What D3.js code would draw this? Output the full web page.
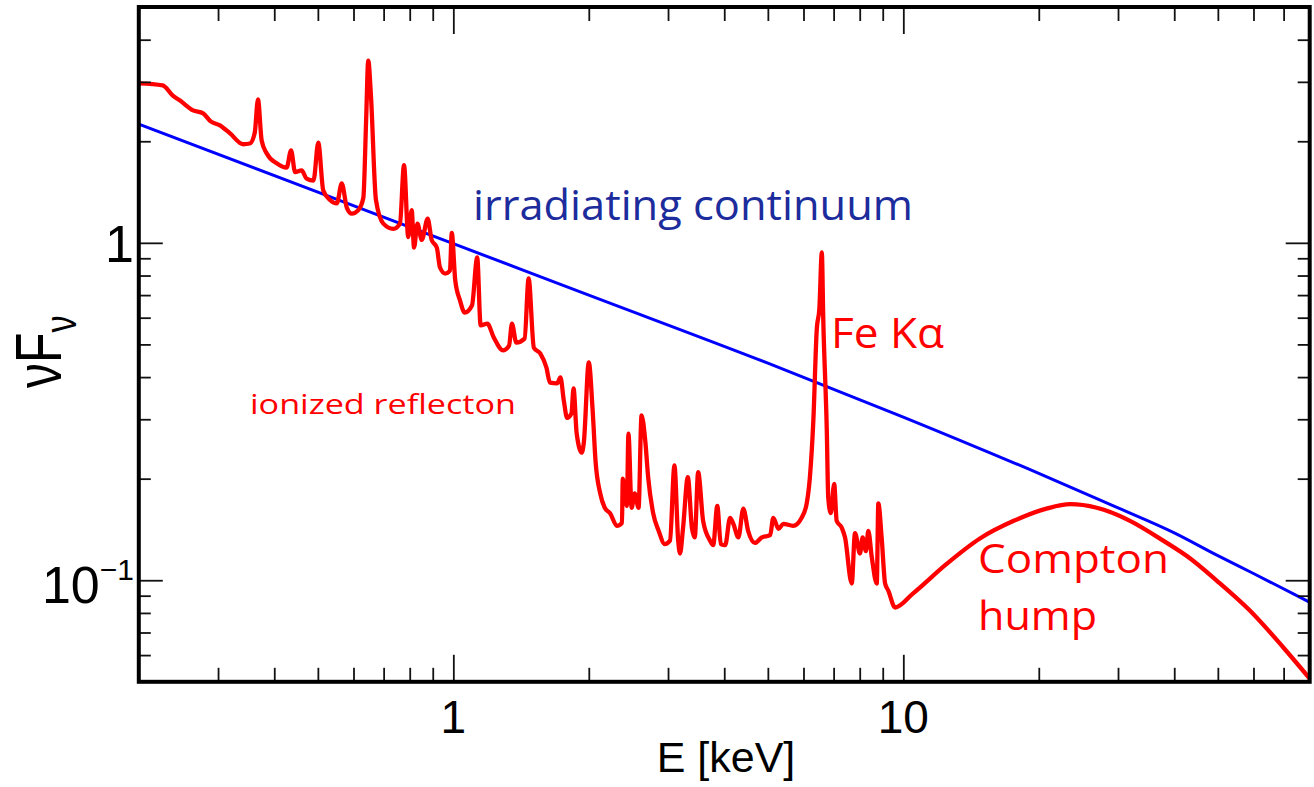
<!DOCTYPE html>
<html><head><meta charset="utf-8">
<script src="https://cdn.jsdelivr.net/npm/d3@7"></script>
<style>html,body{margin:0;padding:0;background:#fff;} svg{display:block}</style>
</head><body>
<svg id="chart" width="1314" height="787"></svg>
<script>
// ---- data ----
const reflEnergy = [0.2,0.226,0.238,0.247,0.264,0.278,0.289,0.303,0.319,0.341,0.353,0.362,0.368,0.375,0.385,0.405,0.426,0.436,0.445,0.460,
 0.472,0.489,0.501,0.514,0.532,0.551,0.565,0.580,0.595,0.615,0.631,0.640,0.647,0.656,0.673,0.699,0.736,0.761,0.777,0.794,
 0.808,0.818,0.832,0.851,0.877,0.895,0.919,0.934,0.959,0.983,0.992,1.01,1.035,1.06,1.10,1.13,1.15,1.19,1.23,1.29,
 1.33,1.35,1.38,1.44,1.47,1.51,1.56,1.61,1.64,1.70,1.73,1.76,1.79,1.83,1.85,1.88,1.93,1.95,2.00,2.04,
 2.07,2.12,2.17,2.23,2.31,2.37,2.38,2.43,2.45,2.49,2.53,2.58,2.62,2.67,2.71,2.78,2.86,2.95,3.03,3.10,
 3.16,3.19,3.24,3.32,3.39,3.44,3.50,3.59,3.72,3.78,3.86,3.93,4.02,4.12,4.19,4.30,4.41,4.52,4.68,4.85,
 5.06,5.14,5.28,5.41,5.69,5.94,6.10,6.20,6.31,6.42,6.51,6.59,6.64,6.76,6.81,6.90,7.02,7.11,7.30,7.42,
 7.68,7.81,8.01,8.12,8.26,8.36,8.51,8.73,8.80,8.95,9.11,9.26,9.59,10.5,12.5,14.8,17.6,20.8,23.5,26.9,
 31.9,37.8,43.4,49.7,58.9,69.9,80];
const reflFlux = [2.97,2.93,2.73,2.64,2.47,2.42,2.29,2.23,2.11,1.96,1.97,2.12,2.66,2.01,1.84,1.72,1.67,1.88,1.62,1.64,
 1.55,1.53,1.98,1.43,1.34,1.31,1.50,1.27,1.22,1.25,1.36,2.30,3.47,2.73,1.34,1.14,1.10,1.14,1.70,1.04,
 1.25,0.968,1.14,1.02,1.18,1.02,0.968,0.845,0.811,0.828,1.07,0.773,0.674,0.621,0.652,0.905,0.569,0.576,0.524,0.480,
 0.496,0.576,0.506,0.520,0.784,0.489,0.470,0.427,0.385,0.383,0.399,0.341,0.303,0.312,0.370,0.272,0.239,0.256,0.442,0.318,
 0.226,0.181,0.164,0.158,0.145,0.148,0.200,0.166,0.272,0.164,0.181,0.164,0.308,0.259,0.202,0.158,0.140,0.128,0.131,0.219,
 0.131,0.120,0.143,0.202,0.143,0.134,0.209,0.150,0.131,0.127,0.166,0.128,0.127,0.153,0.147,0.134,0.163,0.140,0.129,0.134,
 0.136,0.153,0.142,0.147,0.145,0.153,0.169,0.202,0.297,0.550,0.643,0.936,0.589,0.278,0.176,0.158,0.193,0.150,0.143,0.134,
 0.0978,0.138,0.120,0.134,0.122,0.140,0.117,0.0978,0.169,0.134,0.0978,0.0932,0.0830,0.0913,0.112,0.133,0.150,0.163,0.168,0.164,
 0.150,0.131,0.116,0.0998,0.0813,0.0632,0.0511];
const contEnergy = [0.2,0.5,1,2,5,10,20,30,40,50,60,80];
const contFlux = [2.249,1.413,0.9945,0.700,0.440,0.3046,0.2073,0.1639,0.1382,0.1183,0.1047,0.0861];

const xDomain = [0.2, 80];
const yDomain = [0.05, 5];
const xMajorTicks = [1, 10];
const xTickLabels = ["1", "10"];
const yMajorTicks = [1, 0.1];
const xTitle = "E [keV]";

// ---- layout ----
const L = 138.8, R = 1309.7, T = 7, B = 681.8;
const svg = d3.select("#chart");
const x = d3.scaleLog().domain(xDomain).range([L, R]);
const y = d3.scaleLog().domain(yDomain).range([B, T]);

function minorTicks(dom) {
  const out = [];
  for (let p = -3; p <= 3; p++) for (let k = 2; k <= 9; k++) {
    const v = k * Math.pow(10, p);
    if (v > dom[0] * 1.0001 && v < dom[1] * 0.9999) out.push(v);
  }
  return out;
}
const xMinor = minorTicks(xDomain);
const yMinor = minorTicks(yDomain);

svg.append("clipPath").attr("id","plotclip").append("rect")
  .attr("x", L).attr("y", T).attr("width", R - L).attr("height", B - T);
const g = svg.append("g").attr("clip-path","url(#plotclip)");

const blueLine = d3.line().x(d => x(d[0])).y(d => y(d[1])).curve(d3.curveMonotoneX);
const redLine = d3.line().x(d => x(d[0])).y(d => y(d[1])).curve(d3.curveMonotoneX);

g.append("path")
  .datum(contEnergy.map((e,i)=>[e, contFlux[i]]))
  .attr("d", blueLine)
  .attr("fill","none").attr("stroke","#0000ff").attr("stroke-width",3);

g.append("path")
  .datum(reflEnergy.map((e,i)=>[e, reflFlux[i]]))
  .attr("d", redLine)
  .attr("fill","none").attr("stroke","#ff0000").attr("stroke-width",4.3)
  .attr("stroke-linejoin","miter").attr("stroke-miterlimit",3);

// ---- axes with inward ticks ----
function styleAxis(sel) {
  sel.select(".domain").remove();
  sel.selectAll(".tick line").attr("stroke","#111").attr("stroke-width",1.8);
}
svg.append("g").attr("transform",`translate(0,${B})`)
  .call(d3.axisBottom(x).tickValues(xMinor).tickSize(-14).tickFormat("")).call(styleAxis);
svg.append("g").attr("transform",`translate(0,${B})`)
  .call(d3.axisBottom(x).tickValues(xMajorTicks).tickSize(-27).tickFormat("")).call(styleAxis);
svg.append("g").attr("transform",`translate(0,${T})`)
  .call(d3.axisTop(x).tickValues(xMinor).tickSize(-14).tickFormat("")).call(styleAxis);
svg.append("g").attr("transform",`translate(0,${T})`)
  .call(d3.axisTop(x).tickValues(xMajorTicks).tickSize(-27).tickFormat("")).call(styleAxis);
svg.append("g").attr("transform",`translate(${L},0)`)
  .call(d3.axisLeft(y).tickValues(yMinor).tickSize(-12).tickFormat("")).call(styleAxis);
svg.append("g").attr("transform",`translate(${L},0)`)
  .call(d3.axisLeft(y).tickValues(yMajorTicks).tickSize(-24).tickFormat("")).call(styleAxis);
svg.append("g").attr("transform",`translate(${R},0)`)
  .call(d3.axisRight(y).tickValues(yMinor).tickSize(-12).tickFormat("")).call(styleAxis);
svg.append("g").attr("transform",`translate(${R},0)`)
  .call(d3.axisRight(y).tickValues(yMajorTicks).tickSize(-24).tickFormat("")).call(styleAxis);

svg.append("rect").attr("x",L).attr("y",T).attr("width",R-L).attr("height",B-T)
  .attr("fill","none").attr("stroke","#000").attr("stroke-width",4);

const font = "'Liberation Sans', Arial, Helvetica, sans-serif";
xMajorTicks.forEach((v,i) => {
  svg.append("text").attr("x", x(v)).attr("y", 733)
    .attr("text-anchor","middle").attr("font-family",font).attr("font-size",46)
    .attr("fill","#000").text(xTickLabels[i]);
});
svg.append("text").attr("x", 726).attr("y", 771.7).attr("text-anchor","middle")
  .attr("font-family",font).attr("font-size",43).attr("fill","#000").text(xTitle);

svg.append("text").attr("x", 134).attr("y", y(1) + 19).attr("text-anchor","end")
  .attr("font-family",font).attr("font-size",52).attr("fill","#000").text("1");
const t01 = svg.append("text").attr("x", 134).attr("y", y(0.1) + 23).attr("text-anchor","end")
  .attr("font-family",font).attr("font-size",52).attr("fill","#000");
t01.append("tspan").text("10");
t01.append("tspan").attr("dy",-23).attr("font-size",30).text("\u22121");

const yt = svg.append("text")
  .attr("transform","translate(61,388) rotate(-90) scale(1,1.28)")
  .attr("font-family",font).attr("font-size",50).attr("fill","#000");
yt.append("tspan").text("\u03BDF");
yt.append("tspan").attr("dy",12).attr("font-size",34).text("\u03BD");

const afont = "'Open Sans', 'Noto Sans', sans-serif";
function ann(txt, x0, x1, yb, size, color) {
  svg.append("text").attr("x",x0).attr("y",yb).attr("font-family",afont)
    .attr("font-size",size).attr("fill",color)
    .attr("textLength", x1-x0).attr("lengthAdjust","spacingAndGlyphs").text(txt);
}
ann("irradiating continuum", 473, 913, 220, 42, "#1c2c9c");
ann("ionized reflecton", 250, 516, 414, 28, "#ff0000");
ann("Fe K\u03B1", 831, 944, 348, 42, "#ff0000");
ann("Compton", 978, 1169, 573, 40, "#ff0000");
ann("hump", 978, 1097, 630, 40, "#ff0000");
</script>
</body></html>
